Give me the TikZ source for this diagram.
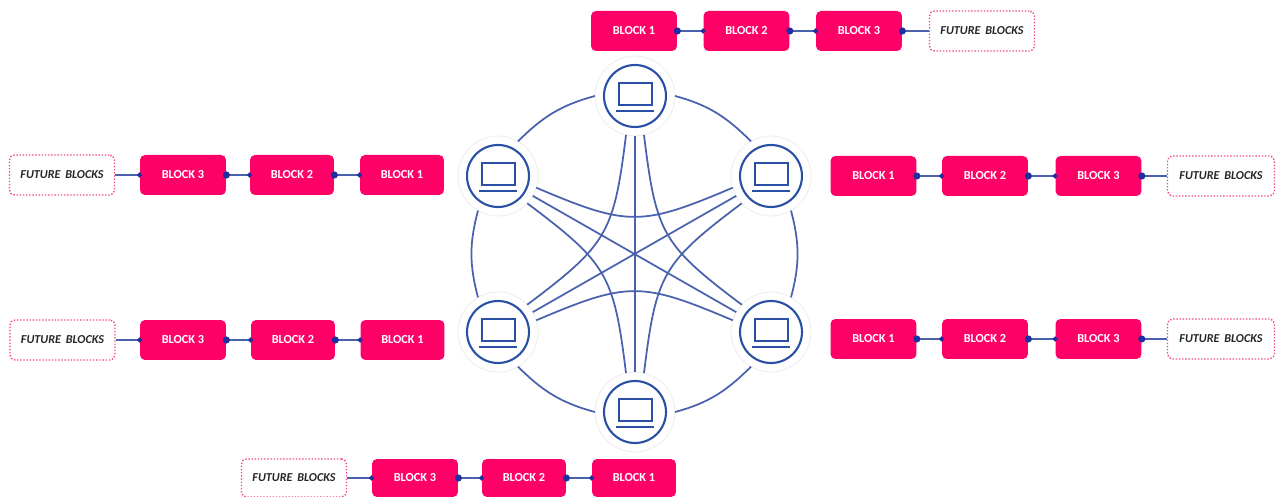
\documentclass[tikz,border=0pt]{standalone}
\usepackage{fontspec}
\setmainfont{Carlito}
\usepackage{xcolor}
\usetikzlibrary{arrows.meta}
\definecolor{blockpink}{HTML}{FF0066}
\definecolor{dotpink}{HTML}{F5478A}
\definecolor{meshblue}{HTML}{4A62AE}
\definecolor{ringblue}{HTML}{2A50A5}
\definecolor{tipblue}{HTML}{1F2FA0}
\definecolor{futuregray}{HTML}{262626}
\tikzset{
  block/.style={fill=blockpink, text=white, rounded corners=0.1cm, minimum width=1.72cm, minimum height=0.8cm, inner sep=0pt, font=\fontsize{7}{8}\selectfont\bfseries},
  future/.style={draw=dotpink, densely dotted, line width=0.8pt, fill=white, text=futuregray, rounded corners=0.1cm, minimum width=2.1cm, minimum height=0.8cm, inner sep=0pt, font=\fontsize{6.9}{8}\selectfont\bfseries\itshape},
  link/.style={draw=meshblue, line width=0.9pt, {Circle[length=4pt,color=tipblue]}-{Circle[length=2.8pt,color=tipblue]}, shorten <=-2pt, shorten >=-1.4pt},
  linkout/.style={draw=meshblue, line width=0.9pt, {Circle[length=4pt,color=tipblue]}-, shorten <=-2pt},
  linkin/.style={draw=meshblue, line width=0.9pt, -{Circle[length=2.8pt,color=tipblue]}, shorten >=-1.4pt},
  halo/.style={circle, draw=black!6, line width=0.6pt, fill=white, minimum size=1.6cm, inner sep=0pt, outer sep=0pt},
  mesh/.style={draw=meshblue, line width=1pt},
  laptop/.pic={
    \draw[ringblue, line width=1.2pt] (0,0) circle (31);
    \draw[ringblue, line width=1.2pt] (-16,-9) rectangle (17,13);
    \draw[ringblue, line width=1.3pt] (-19,-15) -- (19,-15);
  }
}
\begin{document}
\begin{tikzpicture}[x=0.02cm, y=0.02cm]
\useasboundingbox (0,0) rectangle (1276,497);

% Computers
\node[halo] (pctop) at (635,401) {};
\node[halo] (pcul) at (498,321) {};
\node[halo] (pcur) at (771,321) {};
\node[halo] (pcll) at (498,165) {};
\node[halo] (pclr) at (771,165) {};
\node[halo] (pcbot) at (635,85) {};
\pic at (pctop) {laptop};
\pic at (pcul) {laptop};
\pic at (pcur) {laptop};
\pic at (pcll) {laptop};
\pic at (pclr) {laptop};
\pic at (pcbot) {laptop};

% Outer ring
\draw[mesh] (pctop.180) to[out=195, in=45] (pcul.60);
\draw[mesh] (pcul.240) to[out=255, in=105] (pcll.120);
\draw[mesh] (pcll.300) to[out=315, in=165] (pcbot.180);
\draw[mesh] (pcbot.0) to[out=15, in=225] (pclr.240);
\draw[mesh] (pclr.60) to[out=75, in=285] (pcur.300);
\draw[mesh] (pcur.120) to[out=135, in=345] (pctop.0);

% Straight links through the middle
\draw[mesh] (pctop) -- (pcbot);
\draw[mesh] (pcul) -- (pclr);
\draw[mesh] (pcll) -- (pcur);

% Curved links
\draw[mesh] (pctop.257) to[out=263, in=37, looseness=1.3] (pcll.43);
\draw[mesh] (pcul.317) to[out=323, in=97, looseness=1.3] (pcbot.103);
\draw[mesh] (pcll.17) to[out=23, in=157, looseness=1.3] (pclr.163);
\draw[mesh] (pcbot.77) to[out=83, in=217, looseness=1.3] (pcur.223);
\draw[mesh] (pclr.137) to[out=143, in=277, looseness=1.3] (pctop.283);
\draw[mesh] (pcur.197) to[out=203, in=337, looseness=1.3] (pcul.343);

% Top chain
\node[block] (ta) at (634,466) {BLOCK 1};
\node[block] (tb) at (746.5,466) {BLOCK 2};
\node[block] (tc) at (859,466) {BLOCK 3};
\node[future] (tf) at (982,466) {FUTURE\, BLOCKS};
\draw[link] (ta) -- (tb);
\draw[link] (tb) -- (tc);
\draw[linkout] (tc) -- (tf);

% Upper left chain
\node[future] (ulf) at (62,322) {FUTURE\, BLOCKS};
\node[block] (ulc) at (183,322) {BLOCK 3};
\node[block, minimum width=1.68cm] (ulb) at (292,322) {BLOCK 2};
\node[block, minimum width=1.68cm] (ula) at (402,322) {BLOCK 1};
\draw[linkin] (ulf) -- (ulc);
\draw[link] (ulc) -- (ulb);
\draw[link] (ulb) -- (ula);

% Lower left chain
\node[future] (llf) at (62.5,157) {FUTURE\, BLOCKS};
\node[block] (llc) at (183,157) {BLOCK 3};
\node[block, minimum width=1.68cm] (llb) at (293,157) {BLOCK 2};
\node[block, minimum width=1.68cm] (lla) at (402.5,157) {BLOCK 1};
\draw[linkin] (llf) -- (llc);
\draw[link] (llc) -- (llb);
\draw[link] (llb) -- (lla);

% Upper right chain
\node[block] (ura) at (873.5,321) {BLOCK 1};
\node[block] (urb) at (985,321) {BLOCK 2};
\node[block] (urc) at (1098.5,321) {BLOCK 3};
\node[future, minimum width=2.14cm] (urf) at (1221,321) {FUTURE\, BLOCKS};
\draw[link] (ura) -- (urb);
\draw[link] (urb) -- (urc);
\draw[linkout] (urc) -- (urf);

% Lower right chain
\node[block] (lra) at (873.5,158) {BLOCK 1};
\node[block] (lrb) at (985,158) {BLOCK 2};
\node[block] (lrc) at (1098.5,158) {BLOCK 3};
\node[future, minimum width=2.14cm] (lrf) at (1221,158) {FUTURE\, BLOCKS};
\draw[link] (lra) -- (lrb);
\draw[link] (lrb) -- (lrc);
\draw[linkout] (lrc) -- (lrf);

% Bottom chain
\node[future, minimum height=0.76cm] (bf) at (294,19) {FUTURE\, BLOCKS};
\node[block, minimum height=0.76cm] (bc) at (415,19) {BLOCK 3};
\node[block, minimum width=1.68cm, minimum height=0.76cm] (bb) at (524,19) {BLOCK 2};
\node[block, minimum width=1.68cm, minimum height=0.76cm] (ba) at (634,19) {BLOCK 1};
\draw[linkin] (bf) -- (bc);
\draw[link] (bc) -- (bb);
\draw[link] (bb) -- (ba);
\end{tikzpicture}
\end{document}
